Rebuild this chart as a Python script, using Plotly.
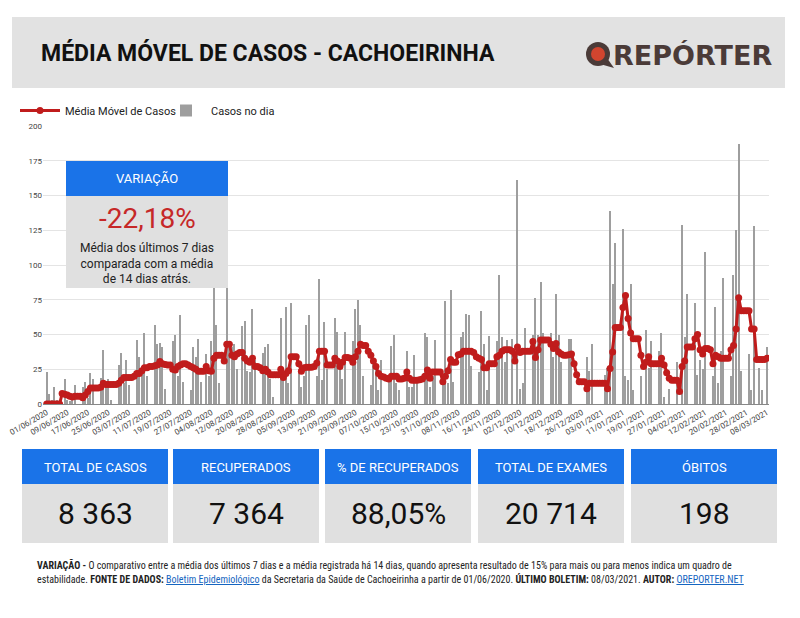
import pandas as pd
import plotly.graph_objects as go

# casos diarios, um valor por dia a partir de 01/06/2020 (semana a semana)
casos = [
    23, 7, 3, 12, 3, 0, 0,
    18, 3, 2, 4, 14, 0, 0,
    12, 16, 4, 22, 18, 0, 0,
    19, 39, 14, 18, 3, 0, 0,
    28, 37, 15, 32, 14, 0, 0,
    46, 34, 27, 51, 20, 0, 0,
    57, 43, 44, 41, 11, 0, 0,
    45, 50, 20, 64, 16, 0, 0,
    10, 41, 34, 47, 16, 0, 36,
    20, 45, 85, 57, 15, 0, 0,
    85, 40, 41, 43, 25, 0, 56,
    60, 24, 23, 68, 32, 0, 0,
    37, 41, 43, 18, 5, 0, 0,
    62, 20, 70, 15, 73, 0, 0,
    25, 12, 20, 57, 64, 0, 0,
    20, 90, 17, 59, 25, 0, 0,
    62, 52, 25, 18, 52, 0, 0,
    45, 68, 75, 57, 20, 0, 0,
    14, 30, 25, 10, 32, 0, 0,
    20, 42, 50, 15, 10, 0, 0,
    38, 12, 12, 35, 15, 0, 0,
    51, 48, 12, 20, 46, 0, 0,
    20, 74, 15, 82, 16, 0, 0,
    48, 52, 65, 64, 27, 0, 0,
    23, 67, 43, 10, 49, 0, 0,
    45, 93, 48, 30, 46, 0, 47,
    0, 161, 11, 15, 55, 0, 0,
    50, 76, 50, 88, 51, 0, 0,
    51, 34, 79, 50, 30, 0, 0,
    47, 47, 0, 0, 0, 0, 0,
    34, 24, 43, 0, 0, 0, 0,
    21, 26, 139, 86, 116, 0, 0,
    126, 20, 17, 86, 10, 0, 0,
    20, 0, 53, 26, 45, 0, 0,
    38, 51, 5, 0, 11, 0, 0,
    30, 0, 129, 48, 79, 0, 0,
    73, 21, 32, 25, 109, 0, 0,
    20, 70, 15, 38, 91, 0, 0,
    20, 93, 125, 187, 24, 0, 0,
    36, 10, 128, 0, 26, 10, 0, 41,
]

media_movel = [
    0, 0, 0, 0, 0, 0, 7.5,
    7, 6.5, 5.5, 5, 5.5, 5.5, 5.5,
    4.5, 6.5, 9, 11.5, 11.5, 11.5, 11.5,
    12, 15, 14, 14, 14, 14, 14,
    15, 17, 19, 19, 19, 19, 20,
    22, 22, 24, 26, 26, 27, 27,
    27.5, 28, 30.5, 29, 28.5, 28, 28,
    25, 24.5, 27, 28, 29, 29, 28,
    27, 26, 25, 23.5, 23.5, 23.5, 27,
    24, 23.5, 33, 35, 35, 35, 31,
    43, 43, 35, 34, 36, 37, 37,
    33, 31, 30, 33, 27, 27, 26,
    24, 25, 23, 21, 21, 21, 21,
    25, 19, 22, 24, 34, 34, 34,
    29, 23.5, 26, 26.5, 26.5, 26.5, 27,
    29.5, 38, 38, 38, 28, 28, 28,
    33, 31, 27, 30, 33.5, 33.5, 33,
    30, 34, 38, 43, 42, 42, 38,
    35, 31, 27, 22, 20, 19.5, 18.5,
    18, 20, 20, 20, 18, 18, 18.5,
    23, 18.5, 17, 17, 17, 17.5, 18,
    20, 24.5, 18.5, 23, 23, 23, 23,
    16, 20, 24, 32, 30, 30, 35.5,
    36, 38, 38, 38, 38, 37, 34,
    33, 32, 26, 26, 29, 29, 29,
    34, 35, 38, 39, 39, 39, 38,
    31, 41, 37, 38, 38, 38, 38,
    45, 33.5, 39, 46, 46, 46, 46,
    43, 40, 43.5, 37.5, 36, 35, 35,
    35.5, 36, 29, 21, 16, 16, 16,
    11, 15, 15, 15, 15, 15, 15,
    15, 11, 25.5, 37.5, 55, 55, 55,
    69.5, 78, 61.5, 51, 47, 47, 47,
    35, 27, 30, 34, 29, 29, 29,
    29, 33, 28, 22.5, 18.5, 17, 17,
    17, 9, 27, 31, 41, 41, 41,
    47, 50, 39, 36, 40, 40, 39,
    29, 35, 34, 33, 33, 33, 33,
    39, 42, 54, 76.5, 67, 67, 67,
    67, 54, 54, 32, 32, 32, 32, 33,
]

datas = pd.date_range("2020-06-01", periods=len(casos), freq="D")

card_titulos = ["TOTAL DE CASOS", "RECUPERADOS", "% DE RECUPERADOS", "TOTAL DE EXAMES", "ÓBITOS"]
card_valores = ["8 363", "7 364", "88,05%", "20 714", "198"]

# a pagina html tem 8px de margem no body, entao a figura comeca em (8, 8)
OFF = 8
W, H = 800 - OFF, 618 - OFF
def px(x):
    return (x - OFF) / W
def py(y):
    return 1 - (y - OFF) / H

FONT = "Roboto, Open Sans, sans-serif"
AZUL = "#1a73e8"
CINZA = "#e0e0e0"
VERMELHO = "#c01c1c"

fig = go.Figure()
fig.add_trace(go.Scatter(
    x=datas, y=media_movel, name="Média Móvel de Casos", mode="lines+markers",
    line=dict(color=VERMELHO, width=3), marker=dict(color=VERMELHO, size=7),
))
fig.add_trace(go.Bar(
    x=datas, y=casos, name="Casos no dia", marker=dict(color="#9e9e9e", line=dict(width=0)),
    width=0.45 * 86400000,
))

shapes = []
annotations = []

def rect(x0, y0, x1, y1, cor, layer="above"):
    shapes.append(dict(type="rect", xref="paper", yref="paper", x0=px(x0), x1=px(x1), y0=py(y1), y1=py(y0),
                       fillcolor=cor, line=dict(width=0), layer=layer))

def texto(txt, x, y, size, color, xanchor="center", family=FONT, align="center"):
    annotations.append(dict(text=txt, xref="paper", yref="paper", x=px(x), y=py(y), xanchor=xanchor,
                            yanchor="middle", showarrow=False, align=align,
                            font=dict(family=family, size=size, color=color)))

# cabecalho
rect(12, 17, 785, 88, "#e2e2e2", layer="below")
texto("<b>MÉDIA MÓVEL DE CASOS - CACHOEIRINHA</b>", 39, 53, 23, "#111", xanchor="left")
# logo
shapes.append(dict(type="circle", xref="paper", yref="paper", x0=px(586), x1=px(610), y0=py(66), y1=py(42),
                   fillcolor="#4b3b38", line=dict(width=0)))
shapes.append(dict(type="circle", xref="paper", yref="paper", x0=px(591), x1=px(605), y0=py(61), y1=py(47),
                   fillcolor="#d2452f", line=dict(width=0)))
shapes.append(dict(type="path", xref="paper", yref="paper",
                   path=f"M {px(600)} {py(64)} L {px(614)} {py(68)} L {px(607)} {py(58)} Z",
                   fillcolor="#4b3b38", line=dict(width=0)))
texto("<b>REPÓRTER</b>", 611, 55, 27, "#4b3b38", xanchor="left", family="DejaVu Sans")

# caixa de variacao
rect(66, 161, 228, 196, AZUL)
rect(66, 196, 228, 288, CINZA)
texto("VARIAÇÃO", 147, 178, 13, "white")
texto("-22,18%", 147, 219, 28, "#c62828")
texto("Média dos últimos 7 dias<br>comparada com a média<br>de 14 dias atrás.", 147, 263, 12, "#222")

# cartoes
lefts = [22, 173, 325, 478, 631]
for left, titulo, valor in zip(lefts, card_titulos, card_valores):
    rect(left, 449, left + 146, 484, AZUL)
    rect(left, 484, left + 146, 543, CINZA)
    texto(titulo, left + 73, 467, 13, "white")
    texto(valor, left + 73, 513, 30, "#111")

# rodape
LINK = "color:#1565c0;text-decoration:underline"
NARROW = "Liberation Sans Narrow, Roboto Condensed, DejaVu Sans Condensed, Arial Narrow, sans-serif"
linha1 = ("<b>VARIAÇÃO -</b> O comparativo entre a média dos últimos 7 dias e a média registrada há 14 dias, "
          "quando apresenta resultado de 15% para mais ou para menos indica um quadro de")
linha2 = (f"estabilidade. <b>FONTE DE DADOS:</b> <span style='{LINK}'>Boletim Epidemiológico</span> "
          "da Secretaria da Saúde de Cachoeirinha a partir de 01/06/2020. <b>ÚLTIMO BOLETIM:</b> 08/03/2021. "
          f"<b>AUTOR:</b> <span style='{LINK}'>OREPORTER.NET</span>")
texto(linha1, 35, 565, 10, "#222", xanchor="left", family=NARROW, align="left")
texto(linha2, 35, 579, 10, "#222", xanchor="left", family=NARROW, align="left")

fig.update_layout(
    width=W, height=H, margin=dict(l=0, r=0, t=0, b=0, autoexpand=False),
    paper_bgcolor="white", plot_bgcolor="white",
    font=dict(family=FONT, color="#444"),
    bargap=0, showlegend=True,
    legend=dict(orientation="h", x=px(15), y=py(96), xanchor="left", yanchor="top",
                itemwidth=40, entrywidth=91,
                font=dict(family=FONT, size=11, color="#222"), bgcolor="rgba(0,0,0,0)"),
    shapes=shapes, annotations=annotations,
    xaxis=dict(
        domain=[px(43), px(769)], type="date", automargin=False,
        range=["2020-05-30 13:26", "2021-03-08 18:43"],
        tick0="2020-06-01", dtick=8 * 86400000, tickformat="%d/%m/%Y", tickangle=-30,
        tickfont=dict(size=8, color="#444"), showgrid=False,
        showline=True, linecolor="#888", linewidth=1, ticks="",
    ),
    yaxis=dict(
        domain=[py(404), py(126)], range=[0, 200], dtick=25, automargin=False,
        tickfont=dict(size=8, color="#444"), gridcolor="#e4e4e4", gridwidth=1,
        zeroline=True, zerolinecolor="#888", zerolinewidth=1,
    ),
)

fig.write_html("out.html")
